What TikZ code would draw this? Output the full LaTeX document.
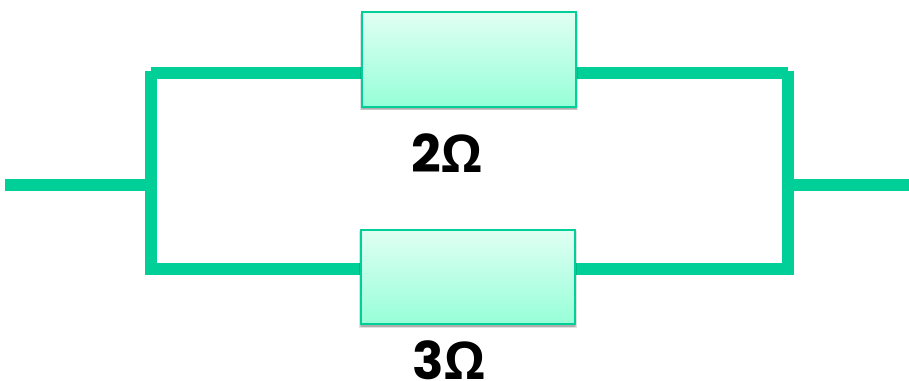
\documentclass[tikz,border=0pt]{standalone}
\usepackage{fontspec}
\setmainfont{Poppins}
\newfontfamily\omegafont{Open Sans}
\usetikzlibrary{shadows}
\definecolor{wirecol}{RGB}{0,207,152}
\definecolor{boxtop}{RGB}{224,255,243}
\definecolor{boxbot}{RGB}{150,255,216}
\tikzset{
  x=0.75pt,y=-0.75pt,
  wire/.style={draw=wirecol,line width=9pt,line cap=butt},
  softshadow/.style={general shadow={shadow scale=#1,shadow yshift=-1.8pt,opacity=.12,fill=black}},
  resistor/.style={rectangle,draw=wirecol,line width=1.6pt,top color=boxtop,bottom color=boxbot,
    minimum width=160.5pt,minimum height=71pt,inner sep=0pt,outer sep=0pt,
    softshadow=1.018,softshadow=1.01,softshadow=1.0},
  rlabel/.style={font=\fontsize{39pt}{39pt}\selectfont\bfseries,text=black,inner sep=0pt}
}
\begin{document}
\begin{tikzpicture}
\useasboundingbox (0,0) rectangle (909,381);
\coordinate (tl) at (150.7,73);
\coordinate (tr) at (788,73);
\coordinate (vlt) at (150.7,71);
\coordinate (vlb) at (150.7,275);
\coordinate (vrt) at (788,71);
\coordinate (vrb) at (788,275);
\coordinate (bl) at (145,269);
\coordinate (br) at (793.7,269);
\coordinate (inl) at (5,185);
\coordinate (inj) at (150.7,185);
\coordinate (outr) at (909,185);
\coordinate (outj) at (788,185);
\draw[wire] (inl) -- (inj);
\draw[wire] (outj) -- (outr);
\draw[wire] (vlt) -- (vlb);
\draw[wire] (vrt) -- (vrb);
\draw[wire] (tl) -- (tr);
\draw[wire] (bl) -- (br);
\node[resistor] (r1) at (469.2,59.5) {};
\node[resistor] (r2) at (467.8,277) {};
\node[rlabel] (l1) at (447,153) {2{\omegafont Ω}};
\node[rlabel] (l2) at (449,360) {3{\omegafont Ω}};
\end{tikzpicture}
\end{document}
